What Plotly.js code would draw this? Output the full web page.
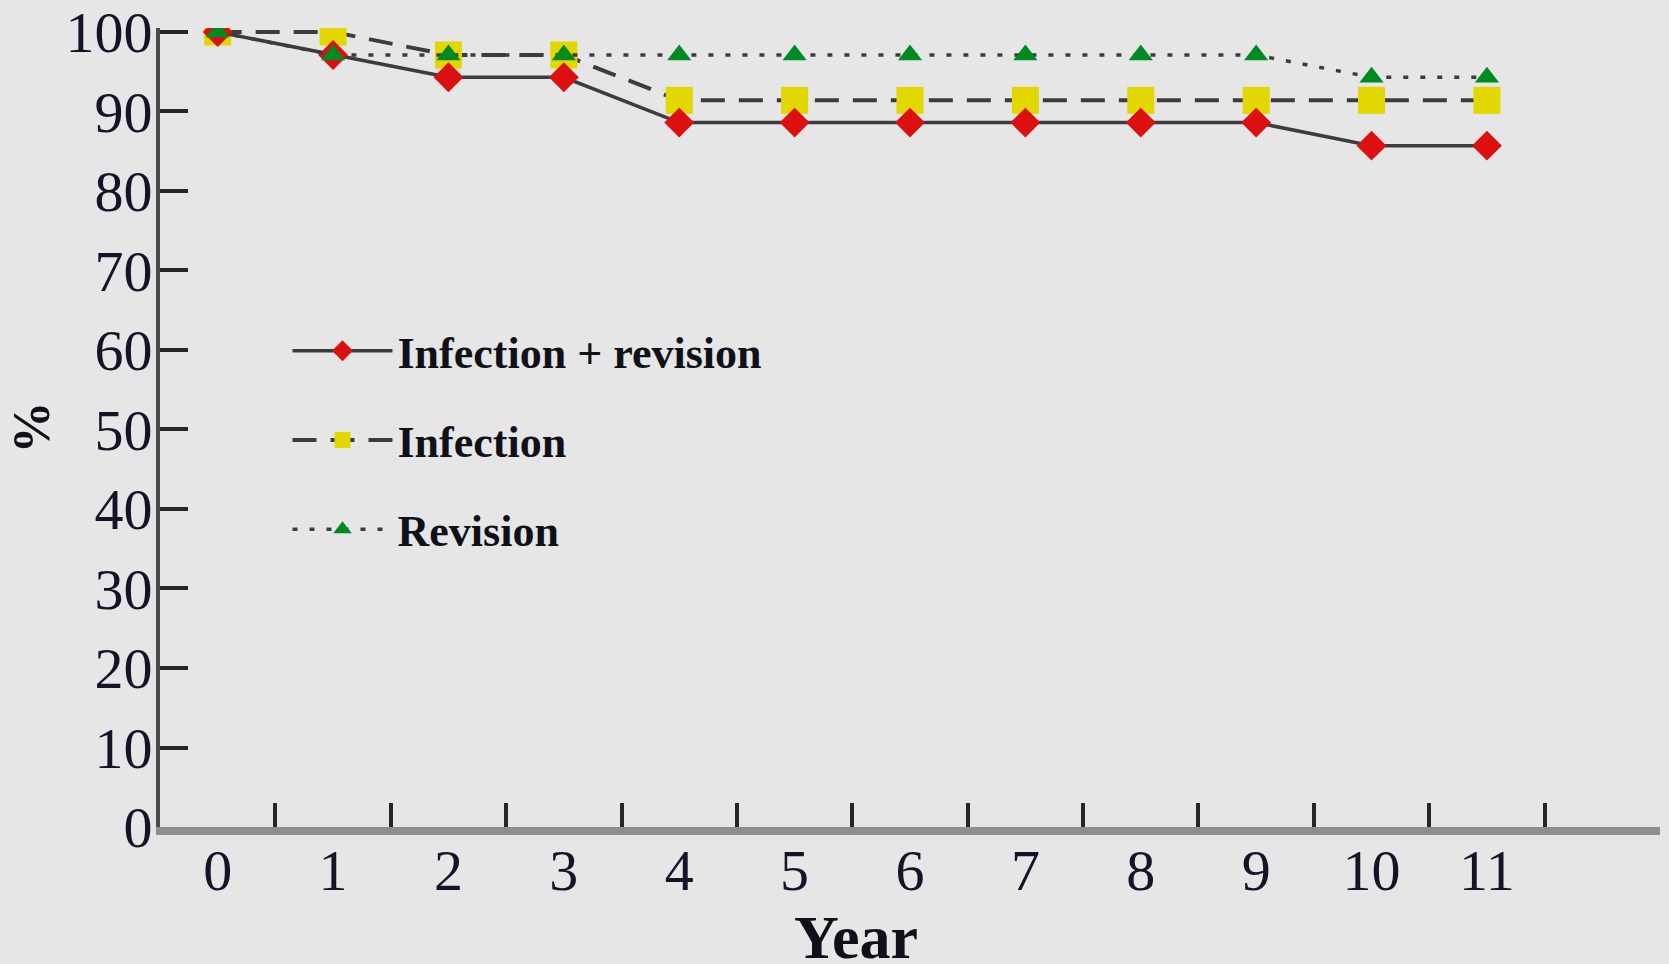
<!DOCTYPE html>
<html>
<head>
<meta charset="utf-8">
<script src="https://cdn.plot.ly/plotly-3.0.1.min.js"></script>
<style>html,body{margin:0;padding:0;background:#e6e6e6;}#chart{width:1669px;height:964px;}</style>
</head>
<body>
<div id="chart"></div>
<script>
const years = [0,1,2,3,4,5,6,7,8,9,10,11];
const infectionRevision = [100,97.1,94.3,94.3,88.6,88.6,88.6,88.6,88.6,88.6,85.7,85.7];
const infection = [100,100,97.1,97.1,91.4,91.4,91.4,91.4,91.4,91.4,91.4,91.4];
const revision = [100,97.1,97.1,97.1,97.1,97.1,97.1,97.1,97.1,97.1,94.3,94.3];
const seriesNames = ['Infection + revision','Infection','Revision'];
const yTicks = [0,10,20,30,40,50,60,70,80,90,100];
const xMinorTicks = [0.5,1.5,2.5,3.5,4.5,5.5,6.5,7.5,8.5,9.5,10.5,11.5];
const xTitle = 'Year';
const yTitle = '%';

const lineColor = '#3c3c3c';
const traces = [
  {x: years, y: infection, name: seriesNames[1], mode: 'lines+markers', legendgroup: 'b', legendrank: 2,
   line: {color: lineColor, width: 4, dash: '24px,14px'},
   marker: {symbol: 'square', size: 27, color: '#e2d700'}},
  {x: years, y: infectionRevision, name: seriesNames[0], mode: 'lines+markers', legendgroup: 'a', legendrank: 1,
   line: {color: lineColor, width: 3.5, dash: 'solid'},
   marker: {symbol: 'diamond', size: 23, color: '#dc1010'}},
  {x: years, y: revision, name: seriesNames[2], mode: 'lines+markers', legendgroup: 'c', legendrank: 3,
   line: {color: lineColor, width: 3.5, dash: '5px,12px'},
   marker: {symbol: 'triangle-up', size: 21, color: '#008a22'}}
];

const layout = {
  width: 1669, height: 964,
  paper_bgcolor: '#e6e6e6', plot_bgcolor: '#e6e6e6',
  margin: {l: 160, r: 9, t: 28, b: 137},
  showlegend: true,
  legend: {x: 0.085, xanchor: 'left', y: 0.64, yanchor: 'top', bgcolor: 'rgba(0,0,0,0)',
    font: {family: 'Liberation Serif, serif', size: 44, color: '#101018', weight: 'bold'},
    itemwidth: 100, tracegroupgap: 29, traceorder: 'grouped', itemsizing: 'trace'},
  xaxis: {
    range: [-0.5, 12.5], showgrid: false, zeroline: false,
    showline: true, linecolor: '#8e8e90', linewidth: 8,
    tickmode: 'array', tickvals: years, ticktext: years.map(String), ticks: '',
    tickfont: {family: 'Liberation Serif, serif', size: 58, color: '#141428'},
    ticklabelstandoff: -15,
    minor: {tickmode: 'array', tickvals: xMinorTicks, ticks: 'inside', ticklen: 24, tickwidth: 4, tickcolor: '#262626', showgrid: false}
  },
  yaxis: {
    range: [0, 100.5], showgrid: false, zeroline: false,
    showline: true, linecolor: '#4a4a4a', linewidth: 4,
    tickmode: 'array', tickvals: yTicks, ticktext: yTicks.map(String),
    ticks: 'inside', ticklen: 28, tickwidth: 4, tickcolor: '#262626',
    tickfont: {family: 'Liberation Serif, serif', size: 58, color: '#141428'},
    ticklabelstandoff: -8,
    title: {text: yTitle, standoff: 0, font: {family: 'Liberation Serif, serif', size: 52, color: '#101018', weight: 'bold'}}
  },
  annotations: [
    {text: xTitle, xref: 'x', x: 5.53, yref: 'paper', y: -0.138, xanchor: 'center', yanchor: 'middle',
     showarrow: false, font: {family: 'Liberation Serif, serif', size: 62, color: '#101018', weight: 'bold'}}
  ]
};

Plotly.newPlot('chart', traces, layout, {displayModeBar: false, staticPlot: true});
</script>
</body>
</html>
